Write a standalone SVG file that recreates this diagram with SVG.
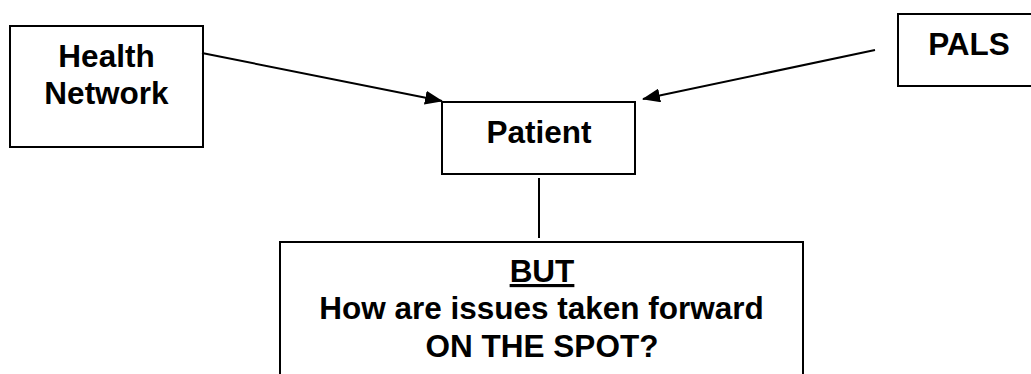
<svg xmlns="http://www.w3.org/2000/svg" width="1031" height="374" viewBox="0 0 1031 374">
<style>
.box{fill:#fff;stroke:#000;stroke-width:2}
.t{font-family:"Liberation Sans",Arial,sans-serif;font-weight:bold;font-size:31.5px;fill:#000;text-anchor:middle}
.c{stroke:#000;stroke-width:2;fill:none}
</style>
<defs>
<marker id="ah" markerUnits="userSpaceOnUse" markerWidth="18" markerHeight="14" refX="17" refY="7" orient="auto">
<path d="M0,0 L18,7 L0,14 Z" fill="#000"/>
</marker>
</defs>
<rect width="1031" height="374" fill="#fff"/>
<g id="health-network">
<rect class="box" x="10" y="26" width="193" height="121"/>
<text class="t" x="106.5" y="67">Health</text>
<text class="t" x="106.5" y="104">Network</text>
</g>
<g id="pals">
<rect class="box" x="898" y="14" width="140" height="72"/>
<text class="t" x="969" y="55">PALS</text>
</g>
<g id="patient">
<rect class="box" x="442" y="102" width="193" height="72"/>
<text class="t" x="539" y="143">Patient</text>
</g>
<g id="question">
<rect class="box" x="280" y="242" width="523" height="140"/>
<text class="t" x="542" y="282" text-decoration="underline">BUT</text>
<text class="t" x="541.5" y="319">How are issues taken forward</text>
<text class="t" x="542" y="357">ON THE SPOT?</text>
</g>
<g id="connectors">
<line class="c" x1="202" y1="53" x2="442" y2="101" marker-end="url(#ah)"/>
<line class="c" x1="875" y1="50" x2="643" y2="99" marker-end="url(#ah)"/>
<line class="c" x1="539" y1="178" x2="539" y2="238"/>
</g>
</svg>
